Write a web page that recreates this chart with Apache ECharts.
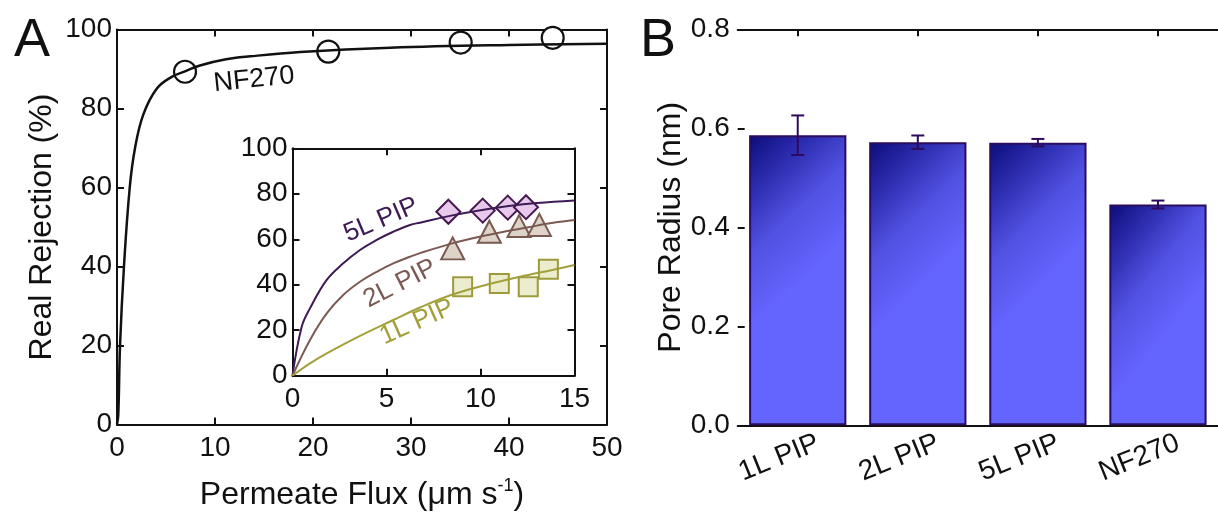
<!DOCTYPE html>
<html>
<head>
<meta charset="utf-8">
<script src="https://cdn.jsdelivr.net/npm/echarts@6/dist/echarts.min.js"></script>
<style>
html,body{margin:0;padding:0;background:#fff;}
#chart{width:1218px;height:516px;}
</style>
</head>
<body>
<div id="chart"></div>
<script>
// panel A, NF270: fitted curve + measured points
const nfFitFlux = [0, 0.13, 0.31, 0.71, 1.3, 1.84, 2.69, 4.05, 5.58, 6.94, 8.47, 11, 13.6, 18.7, 27.9, 40, 50];
const nfFitRej = [0, 2.4, 20, 40, 60, 70, 78.5, 85, 88, 89.4, 90.9, 92.4, 93.2, 94.3, 95.4, 96.1, 96.4];
const nfFlux = [6.94, 21.56, 35.07, 44.46];
const nfRej = [89.3, 94.4, 96.7, 97.9];

// inset: PIP membranes
const pip5FitX = [0, 0.49, 0.93, 1.82, 2.7, 3.59, 4.48, 5.36, 6.25, 6.78, 8.5, 10, 11.5, 13, 15];
const pip5FitY = [0, 21.5, 29.6, 42.1, 49.4, 55.3, 59.7, 63.3, 66.3, 67.3, 70.5, 72.8, 74.6, 75.9, 77];
const pip2FitX = [0, 0.93, 1.82, 2.7, 3.59, 4.48, 5.36, 6.25, 6.78, 8.5, 10, 11.5, 13, 13.87, 15];
const pip2FitY = [0, 15.7, 27.4, 35.5, 41.3, 45.7, 49.4, 52.3, 53.9, 58.2, 61.2, 63.7, 66, 67.3, 68.5];
const pip1FitX = [0, 0.93, 1.82, 3.59, 5.36, 6.78, 8.55, 10.33, 12.1, 13.87, 15];
const pip1FitY = [0, 5.4, 9.8, 17.5, 24.5, 30, 35.8, 40, 43.5, 46.6, 48.7];
const pip5X = [8.29, 10.12, 11.45, 12.42];
const pip5Y = [72.1, 72.6, 73.9, 74.1];
const pip2X = [8.52, 10.47, 12.05, 13.13];
const pip2Y = [56.0, 63.3, 65.8, 66.3];
const pip1X = [9.05, 11.0, 12.54, 13.61];
const pip1Y = [39.1, 40.6, 39.1, 46.8];

// panel B
const membranes = ['1L PIP', '2L PIP', '5L PIP', 'NF270'];
const poreRadius = [0.586, 0.572, 0.571, 0.446];
const poreErr = [0.040, 0.0135, 0.0075, 0.008];

const zip = (xs, ys) => xs.map((x, i) => [x, ys[i]]);

const FONT = 'Liberation Sans';
const black = '#111';
const axLine = {onZero: false, lineStyle: {color: black, width: 2}};
const tickIn = {show: true, inside: true, length: 7, lineStyle: {color: black, width: 2}};
const lab = (m) => ({color: black, fontSize: 28, fontFamily: FONT, margin: m});

const col5 = '#3e1a55', col2 = '#7a5a52', col1 = '#a3a03c';

const chart = echarts.init(document.getElementById('chart'));

const barFill = new echarts.graphic.LinearGradient(0, 0, 1, 0.35, [
    {offset: 0, color: '#0c0c7a'},
    {offset: 0.3, color: '#2c2cae'},
    {offset: 0.62, color: '#5151e2'},
    {offset: 1, color: '#6464ff'}
]);

function errBar(params, api) {
    const i = api.value(0);
    const lo = api.coord([i, api.value(1)]);
    const hi = api.coord([i, api.value(2)]);
    const w = 6.5;
    const st = {stroke: '#2d0a5e', lineWidth: 2};
    return {type: 'group', children: [
        {type: 'line', shape: {x1: lo[0], y1: lo[1], x2: hi[0], y2: hi[1]}, style: st},
        {type: 'line', shape: {x1: lo[0] - w, y1: lo[1], x2: lo[0] + w, y2: lo[1]}, style: st},
        {type: 'line', shape: {x1: hi[0] - w, y1: hi[1], x2: hi[0] + w, y2: hi[1]}, style: st}
    ]};
}

function textLabel(text, color, rot, size) {
    return {show: true, position: 'inside', formatter: text, rotate: rot,
        color: color, fontSize: size, fontFamily: FONT};
}

const option = {
    animation: false,
    backgroundColor: '#fff',
    textStyle: {fontFamily: FONT},
    graphic: [
        {type: 'text', left: 14, top: 14, style: {text: 'A', fontSize: 54, fontFamily: FONT, fill: black}},
        {type: 'text', left: 640, top: 14, style: {text: 'B', fontSize: 54, fontFamily: FONT, fill: black}}
    ],
    grid: [
        {left: 117, top: 29.5, width: 490, height: 396.5},
        {left: 292.5, top: 148.3, width: 282, height: 227.4, show: true, backgroundColor: '#fff', borderWidth: 0},
        {left: 737.7, top: 29.3, width: 493, height: 396}
    ],
    xAxis: [
        {gridIndex: 0, type: 'value', min: 0, max: 50, interval: 10, axisLine: axLine, axisTick: tickIn,
            axisLabel: lab(10), splitLine: {show: false},
            name: 'Permeate Flux (μm s{sup|-1})', nameLocation: 'middle', nameGap: 53,
            nameTextStyle: {fontSize: 32, color: black, fontFamily: FONT,
                rich: {sup: {fontSize: 18, color: black, fontFamily: FONT, padding: [0, 0, 17, 0]}}}},
        {gridIndex: 0, type: 'value', position: 'top', min: 0, max: 50, interval: 10, axisLine: axLine,
            axisTick: tickIn, axisLabel: {show: false}, splitLine: {show: false}},
        {gridIndex: 1, type: 'value', min: 0, max: 15, interval: 5, axisLine: axLine, axisTick: tickIn,
            axisLabel: lab(10), splitLine: {show: false}},
        {gridIndex: 1, type: 'value', position: 'top', min: 0, max: 15, interval: 5, axisLine: axLine,
            axisTick: tickIn, axisLabel: {show: false}, splitLine: {show: false}},
        {gridIndex: 2, type: 'category', data: membranes, axisLine: axLine, axisTick: {show: false},
            axisLabel: {color: black, fontSize: 28, fontFamily: FONT, rotate: 22, margin: 25, interval: 0,
                align: 'center', verticalAlign: 'middle', padding: [0, 40, 0, 0]}},
        {gridIndex: 2, type: 'category', position: 'top', data: membranes, axisLine: axLine,
            axisTick: {show: true, inside: true, length: 7, alignWithLabel: true, interval: 0,
                lineStyle: {color: black, width: 2}},
            axisLabel: {show: false}}
    ],
    yAxis: [
        {gridIndex: 0, type: 'value', min: 0, max: 100, interval: 20, axisLine: axLine, axisTick: tickIn,
            axisLabel: lab(5), splitLine: {show: false},
            name: 'Real Rejection (%)', nameLocation: 'middle', nameGap: 59,
            nameTextStyle: {fontSize: 32, color: black, fontFamily: FONT}},
        {gridIndex: 0, type: 'value', position: 'right', min: 0, max: 100, interval: 20, axisLine: axLine,
            axisTick: tickIn, axisLabel: {show: false}, splitLine: {show: false}},
        {gridIndex: 1, type: 'value', min: 0, max: 100, interval: 20, axisLine: axLine, axisTick: tickIn,
            axisLabel: lab(5), splitLine: {show: false}},
        {gridIndex: 1, type: 'value', position: 'right', min: 0, max: 100, interval: 20, axisLine: axLine,
            axisTick: tickIn, axisLabel: {show: false}, splitLine: {show: false}},
        {gridIndex: 2, type: 'value', min: 0, max: 0.8, interval: 0.2, axisLine: axLine, axisTick: tickIn,
            axisLabel: {color: black, fontSize: 28, fontFamily: FONT, margin: 8, formatter: v => v.toFixed(1)},
            splitLine: {show: false},
            name: 'Pore Radius (nm)', nameLocation: 'middle', nameGap: 44,
            nameTextStyle: {fontSize: 32, color: black, fontFamily: FONT}}
    ],
    series: [
        {type: 'line', xAxisIndex: 0, yAxisIndex: 0, data: zip(nfFitFlux, nfFitRej), showSymbol: false,
            smooth: 0.4, lineStyle: {color: black, width: 2.5}},
        {type: 'scatter', xAxisIndex: 0, yAxisIndex: 0, data: zip(nfFlux, nfRej), symbol: 'circle', symbolSize: 22,
            itemStyle: {color: '#fff', borderColor: black, borderWidth: 2.2, opacity: 1}},
        {type: 'scatter', xAxisIndex: 0, yAxisIndex: 0, symbolSize: 1, itemStyle: {color: 'transparent', opacity: 1},
            data: [{value: [13.98, 87.3], label: textLabel('NF270', black, 6, 27)}]},

        {type: 'line', xAxisIndex: 2, yAxisIndex: 2, data: zip(pip5FitX, pip5FitY), showSymbol: false,
            smooth: 0.4, lineStyle: {color: col5, width: 2}},
        {type: 'line', xAxisIndex: 2, yAxisIndex: 2, data: zip(pip2FitX, pip2FitY), showSymbol: false,
            smooth: 0.4, lineStyle: {color: col2, width: 2}},
        {type: 'line', xAxisIndex: 2, yAxisIndex: 2, data: zip(pip1FitX, pip1FitY), showSymbol: false,
            smooth: 0.4, lineStyle: {color: col1, width: 2}},
        {type: 'scatter', xAxisIndex: 2, yAxisIndex: 2, data: zip(pip1X, pip1Y), symbol: 'rect', symbolSize: 19,
            itemStyle: {color: '#ececcf', borderColor: '#9d9a3c', borderWidth: 2, opacity: 1}},
        {type: 'scatter', xAxisIndex: 2, yAxisIndex: 2, data: zip(pip2X, pip2Y), symbol: 'triangle', symbolSize: [23, 22],
            itemStyle: {color: '#ddd3c9', borderColor: '#7a5a50', borderWidth: 2, opacity: 1}},
        {type: 'scatter', xAxisIndex: 2, yAxisIndex: 2, data: zip(pip5X, pip5Y), symbol: 'diamond', symbolSize: 24,
            itemStyle: {color: '#e8c9ec', borderColor: '#45184f', borderWidth: 2, opacity: 1}},
        {type: 'scatter', xAxisIndex: 2, yAxisIndex: 2, symbolSize: 1, itemStyle: {color: 'transparent', opacity: 1},
            data: [
                {value: [4.71, 68.5], label: textLabel('5L PIP', col5, 23, 26)},
                {value: [5.72, 40.5], label: textLabel('2L PIP', col2, 27, 26)},
                {value: [6.62, 23.6], label: textLabel('1L PIP', col1, 24, 26)}
            ]},

        {type: 'bar', xAxisIndex: 4, yAxisIndex: 4, data: poreRadius, barWidth: '81%',
            itemStyle: {color: barFill, borderColor: '#2b0c5e', borderWidth: 2}},
        {type: 'custom', xAxisIndex: 4, yAxisIndex: 4, renderItem: errBar, z: 5,
            data: poreRadius.map((r, i) => [i, r - poreErr[i], r + poreErr[i]])}
    ]
};
chart.setOption(option);
</script>
</body>
</html>
